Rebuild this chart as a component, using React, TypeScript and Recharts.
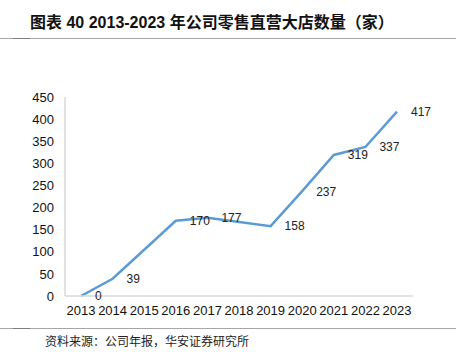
import React from 'react';
import { LineChart, Line, XAxis, YAxis, LabelList } from 'recharts';

// Data (2015 and 2018 have no point in the source, line just joins across)
const years = ['2013', '2014', '2015', '2016', '2017', '2018', '2019', '2020', '2021', '2022', '2023'];
const storeCounts: (number | null)[] = [0, 39, null, 170, 177, null, 158, 237, 319, 337, 417];
const yTicks = [0, 50, 100, 150, 200, 250, 300, 350, 400, 450];

const title = '图表 40 2013-2023 年公司零售直营大店数量（家）';
const source = '资料来源：公司年报，华安证券研究所';

const FONT = '"Liberation Sans", Arial, "Noto Sans CJK SC", sans-serif';
const CJK = '"Noto Sans CJK SC", "Liberation Sans", sans-serif';

const data = years.map((y, i) => ({ year: y, count: storeCounts[i] }));

const renderLabel = (props: any) => {
  const { x, y, value } = props;
  if (value === null || value === undefined) return null;
  return (
    <text x={x + 14} y={y} dy="0.36em" fontSize={12} fill="#222" fontFamily={FONT} textAnchor="start">
      {value}
    </text>
  );
};

const App: React.FC = () => {
  return (
    <div style={{ position: 'absolute', left: 0, top: 0, width: 456, height: 352, background: '#fff', overflow: 'hidden' }}>
      {/* title */}
      <div style={{ position: 'absolute', left: 30, top: 13, fontSize: 16, fontWeight: 'bold', fontFamily: FONT, color: '#111', whiteSpace: 'nowrap', lineHeight: '20px' }}>
        {title}
      </div>
      {/* header / footer rules */}
      <div style={{ position: 'absolute', left: 0, top: 38, width: 456, height: 1, background: '#a6a6a6' }} />
      <div style={{ position: 'absolute', left: 13, top: 38, width: 17, height: 1, background: '#7f7f7f' }} />
      <div style={{ position: 'absolute', left: 0, top: 328, width: 456, height: 1, background: '#a6a6a6' }} />
      <div style={{ position: 'absolute', left: 13, top: 328, width: 17, height: 1, background: '#7f7f7f' }} />

      <div style={{ position: 'absolute', left: 0, top: 0 }}>
        <LineChart width={456} height={352} data={data} margin={{ top: 97, right: 43, bottom: 26, left: 0 }}>
          <XAxis
            dataKey="year"
            interval={0}
            padding={{ left: 16, right: 16 }}
            tickLine={false}
            axisLine={{ stroke: '#d9d9d9', strokeWidth: 1.5 }}
            tick={{ fontSize: 13, fill: '#111', fontFamily: FONT }}
            tickMargin={4}
            height={30}
          />
          <YAxis
            domain={[0, 450]}
            ticks={yTicks}
            width={65}
            tickLine={false}
            axisLine={{ stroke: '#d9d9d9', strokeWidth: 1.5 }}
            tick={{ fontSize: 13, fill: '#111', fontFamily: FONT }}
            tickMargin={5}
          />
          <Line
            type="linear"
            dataKey="count"
            stroke="#5b9bd5"
            strokeWidth={2.5}
            dot={false}
            connectNulls
            isAnimationActive={false}
          >
            <LabelList dataKey="count" content={renderLabel} />
          </Line>
        </LineChart>
      </div>

      {/* source note */}
      <div style={{ position: 'absolute', left: 45, top: 333, fontSize: 12, fontFamily: CJK, color: '#222', whiteSpace: 'nowrap', lineHeight: '16px' }}>
        {source}
      </div>
    </div>
  );
};

export default App;
